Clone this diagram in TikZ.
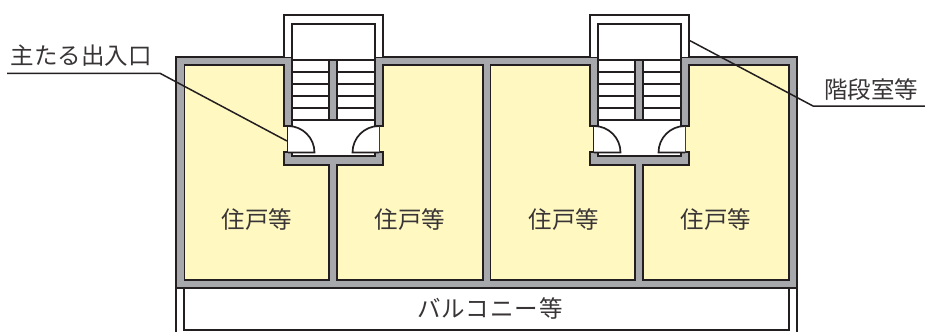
\documentclass[tikz,border=0pt]{standalone}
\usepackage{fontspec}
\setmainfont{Noto Sans CJK JP}
\definecolor{wallgray}{HTML}{A7A8AB}
\definecolor{roomyellow}{HTML}{FFF8C1}
\definecolor{inkdark}{HTML}{231F20}
\tikzset{
	wall/.style = {fill = wallgray, draw = inkdark, line width = 1.8pt},
	room/.style = {fill = roomyellow, draw = inkdark, line width = 1.8pt},
	stair/.style = {fill = white, draw = inkdark, line width = 1.7pt},
	leader/.style = {draw = inkdark, line width = 1.5pt},
	tag/.style = {inner sep = 0pt, text = inkdark!90, font = \fontsize{23.5}{28}\selectfont}
}
\begin{document}
\begin{tikzpicture}[x = 1pt, y = -1pt]
	\useasboundingbox (0,0) rectangle (925,332);
	% balcony
	\draw[stair] (184,288) -- (184,330) -- (789,330) -- (789,288);
	\draw[leader] (176,288) -- (176,332);
	\draw[leader] (797,288) -- (797,332);
	% building
	\path[wall] (176,57) rectangle (797,288);
	\foreach \dx in {0,306} {
		\begin{scope}[xshift = \dx pt]
			\path[stair] (284,57) -- (284,15) -- (383,15) -- (383,57);
			\path[stair] (292,24) rectangle (375,60);
			\path[room] (184.5,65) -- (284,65) -- (284,126) -- (288,126) -- (288,152) -- (284,152) -- (284,165) -- (329.3,165) -- (329.3,280) -- (184.5,280) -- cycle;
			\path[room] (483,65) -- (383,65) -- (383,126) -- (379,126) -- (379,152) -- (383,152) -- (383,165) -- (337.3,165) -- (337.3,280) -- (483,280) -- cycle;
			\path[stair] (292,60) -- (375,60) -- (375,126) -- (379,126) -- (379,152) -- (375,152) -- (375,156) -- (292,156) -- (292,152) -- (288,152) -- (288,126) -- (292,126) -- cycle;
			\foreach \y in {72,84,96,108,120}
				\draw[stair] (292,\y) -- (375,\y);
			\path[wall] (329.3,60) rectangle (337.3,120);
			\draw[stair] (288,126) arc[start angle = -90, end angle = 0, radius = 26.5] -- (288,152.5);
			\draw[stair] (379,126) arc[start angle = -90, end angle = -180, radius = 26.5] -- (379,152.5);
		\end{scope}
	}
	\node[tag] (room1) at (257,220) {住戸等};
	\node[tag] (room2) at (410,220) {住戸等};
	\node[tag] (room3) at (564,220) {住戸等};
	\node[tag] (room4) at (716,220) {住戸等};
	\node[tag] (balcony) at (490,308) {\addfontfeature{LetterSpace=4}バルコニー等};
	% leaders
	\node[tag] (entrance) at (81,56) {主たる出入口};
	\node[tag] (stairroom) at (871,90) {階段室等};
	\coordinate (entrance0) at (7,73.3);
	\coordinate (entrance1) at (160,73.3);
	\coordinate (entrance2) at (287,141);
	\coordinate (stairroom0) at (690,40.7);
	\coordinate (stairroom1) at (813,106);
	\coordinate (stairroom2) at (925,106);
	\draw[leader] (entrance0) -- (entrance1) -- (entrance2);
	\draw[leader] (stairroom0) -- (stairroom1) -- (stairroom2);
\end{tikzpicture}
\end{document}
